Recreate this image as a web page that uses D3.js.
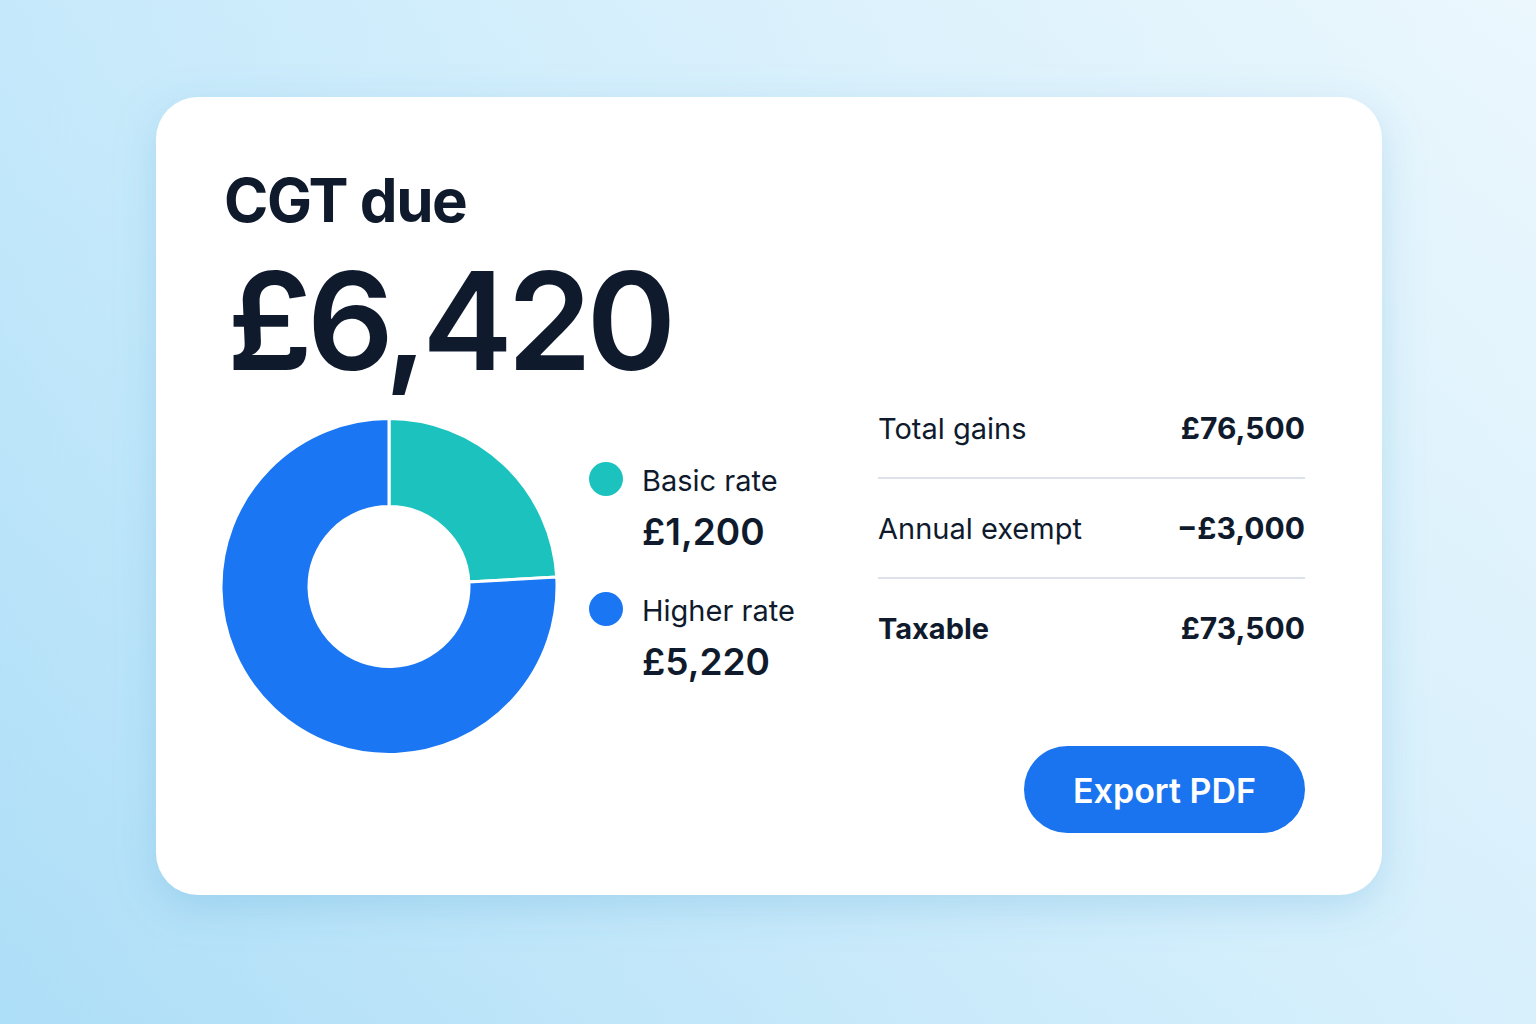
<!DOCTYPE html>
<html>
<head>
<meta charset="utf-8">
<script src="https://cdn.jsdelivr.net/npm/d3@7/dist/d3.min.js"></script>
<style>
  html, body { margin: 0; padding: 0; width: 1536px; height: 1024px; overflow: hidden; }
  svg { display: block; font-family: Inter, "Noto Sans", sans-serif; }
</style>
</head>
<body>
<svg id="chart" width="1536" height="1024"></svg>
<script>
// ---- data ----
const title = "CGT due";
const totalDue = 6420;
const bandLabels = ["Basic rate", "Higher rate"];
const bandAmounts = [1200, 5220];
const bandShares = [24.1, 75.9];          // share of ring as drawn in the reference (%)
const bandColors = ["#1cc2bd", "#1a76f2"];
const rowLabels = ["Total gains", "Annual exempt", "Taxable"];
const rowValues = [76500, -3000, 73500];
const rowBold = [false, false, true];
const buttonLabel = "Export PDF";

// ---- helpers ----
const fmt = d3.format(",");
const money = v => (v < 0 ? "\u2212£" : "£") + fmt(Math.abs(v));
const ink = "#0f1b2d";

const svg = d3.select("#chart");
const defs = svg.append("defs");

const bg = defs.append("linearGradient").attr("id", "bg")
  .attr("x1", "0%").attr("y1", "100%").attr("x2", "100%").attr("y2", "0%");
bg.append("stop").attr("offset", "0%").attr("stop-color", "#a8dbf6");
bg.append("stop").attr("offset", "45%").attr("stop-color", "#cbebfb");
bg.append("stop").attr("offset", "100%").attr("stop-color", "#e6f5fd");

const bg2 = defs.append("linearGradient").attr("id", "bg2")
  .attr("x1", "0%").attr("y1", "0%").attr("x2", "100%").attr("y2", "0%");
bg2.append("stop").attr("offset", "0%").attr("stop-color", "#b6e3fa").attr("stop-opacity", 0.35);
bg2.append("stop").attr("offset", "100%").attr("stop-color", "#ffffff").attr("stop-opacity", 0.2);

const shadow = defs.append("filter").attr("id", "shadow")
  .attr("x", "-10%").attr("y", "-10%").attr("width", "120%").attr("height", "130%");
shadow.append("feDropShadow").attr("dx", 0).attr("dy", 12).attr("stdDeviation", 20)
  .attr("flood-color", "#4a9fd0").attr("flood-opacity", 0.25);

svg.append("rect").attr("width", 1536).attr("height", 1024).attr("fill", "url(#bg)");
svg.append("rect").attr("width", 1536).attr("height", 1024).attr("fill", "url(#bg2)");

// card
svg.append("rect")
  .attr("x", 156).attr("y", 97).attr("width", 1226).attr("height", 798)
  .attr("rx", 42).attr("fill", "#ffffff").attr("filter", "url(#shadow)");

// title and total
svg.append("text").attr("x", 224).attr("y", 222)
  .attr("font-size", 60).attr("font-weight", 700).attr("fill", ink)
  .attr("letter-spacing", -1.5).text(title);
svg.append("text").attr("x", 227).attr("y", 370)
  .attr("font-size", 136).attr("font-weight", 600).attr("fill", ink)
  .attr("letter-spacing", -5.5).text(money(totalDue));

// donut
const cx = 389, cy = 586.5;
const outerR = 168, innerR = 80;
const pie = d3.pie().sort(null).value(d => d.share);
const arc = d3.arc().innerRadius(innerR).outerRadius(outerR);
const bands = bandLabels.map((l, i) => ({ label: l, amount: bandAmounts[i], share: bandShares[i], color: bandColors[i] }));
svg.append("g").attr("transform", `translate(${cx},${cy})`)
  .selectAll("path").data(pie(bands)).join("path")
  .attr("d", arc).attr("fill", d => d.data.color)
  .attr("stroke", "#ffffff").attr("stroke-width", 3).attr("stroke-linejoin", "miter");

// legend
const legendY = d3.scalePoint().domain(bandLabels).range([479, 609]);
const lg = svg.append("g").selectAll("g").data(bands).join("g")
  .attr("transform", d => `translate(0,${legendY(d.label)})`);
lg.append("circle").attr("cx", 606).attr("cy", 0).attr("r", 17).attr("fill", d => d.color);
lg.append("text").attr("x", 642).attr("y", 12).attr("font-size", 29).attr("fill", ink)
  .text(d => d.label);
lg.append("text").attr("x", 642).attr("y", 66).attr("font-size", 37).attr("font-weight", 600)
  .attr("fill", ink).text(d => money(d.amount));

// summary table
const rowY = d3.scalePoint().domain(rowLabels).range([439, 639]);
const tx0 = 878, tx1 = 1305;
const rows = rowLabels.map((l, i) => ({ label: l, value: rowValues[i], bold: rowBold[i] }));
const rg = svg.append("g").selectAll("g").data(rows).join("g")
  .attr("transform", d => `translate(0,${rowY(d.label)})`);
rg.append("text").attr("x", tx0).attr("y", 0).attr("font-size", 29)
  .attr("font-weight", d => d.bold ? 700 : 400).attr("fill", ink).text(d => d.label);
rg.append("text").attr("x", tx1).attr("y", 0).attr("font-size", 30).attr("text-anchor", "end")
  .attr("font-weight", 700).attr("fill", ink).text(d => money(d.value));
rg.filter((d, i) => i < rows.length - 1).append("line")
  .attr("x1", tx0).attr("x2", tx1).attr("y1", 39).attr("y2", 39)
  .attr("stroke", "#dde2ea").attr("stroke-width", 2);

// button
const btn = svg.append("g");
btn.append("rect").attr("x", 1024).attr("y", 746).attr("width", 281).attr("height", 87)
  .attr("rx", 43.5).attr("fill", "#1a74ef");
btn.append("text").attr("x", 1024 + 281 / 2).attr("y", 803).attr("text-anchor", "middle")
  .attr("font-size", 34).attr("font-weight", 600).attr("fill", "#ffffff").text(buttonLabel);
</script>
</body>
</html>
